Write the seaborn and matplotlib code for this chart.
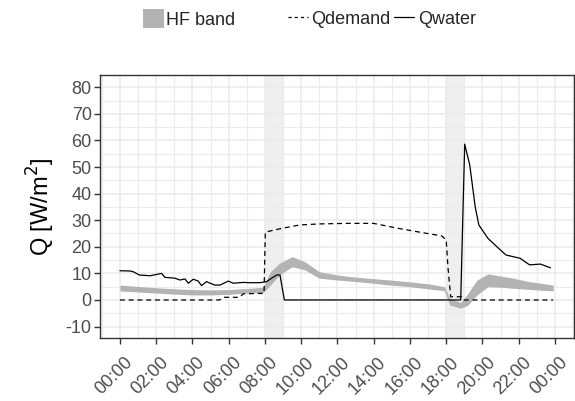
import matplotlib
matplotlib.use("Agg")
import matplotlib.pyplot as plt
from matplotlib.patches import Patch
from matplotlib.lines import Line2D
from matplotlib.ticker import MultipleLocator, FixedLocator
from matplotlib.transforms import ScaledTranslation
import seaborn as sns
import pandas as pd

# Heat flux band (lower / upper envelope), hours of day
t_band = [0.0, 1.0, 2.0, 3.0, 4.0, 5.0, 6.0, 7.0, 7.9, 8.3, 8.8, 9.5, 10.2, 11.0,
          12.0, 12.7, 14.0, 14.9, 16.0, 17.1, 17.9, 18.2, 18.8, 19.2, 19.7, 20.3,
          21.0, 21.7, 22.5, 23.2, 23.9]
band_lo = [3.4, 3.0, 2.6, 2.2, 1.9, 1.9, 2.1, 2.6, 2.8, 5.6, 9.4, 12.5, 11.3, 8.2,
           7.5, 7.1, 6.3, 5.6, 5.0, 4.1, 3.5, -1.9, -3.1, -1.9, 1.9, 5.0,
           4.8, 4.4, 4.0, 3.7, 3.4]
band_hi = [5.6, 5.1, 4.6, 4.2, 3.9, 3.8, 3.9, 4.3, 4.8, 10.6, 13.8, 16.3, 14.4, 10.6,
           9.4, 8.8, 8.0, 7.5, 6.8, 6.0, 5.0, 0.6, -1.0, 2.5, 7.5, 9.8,
           9.0, 8.2, 7.0, 6.3, 5.6]

# Heat demand
t_demand = [0.0, 5.5, 5.7, 6.6, 6.8, 7.95, 8.02, 8.5, 9.0, 9.9, 11.0, 12.5, 14.0,
            15.3, 16.7, 17.75, 18.0, 18.1, 18.25, 18.85, 18.95, 23.9]
q_demand = [0.0, 0.0, 1.0, 1.0, 2.3, 2.5, 25.5, 26.3, 27.0, 28.2, 28.6, 28.8, 28.8,
            27.0, 25.3, 24.1, 22.6, 12.0, 1.2, 1.2, 0.0, 0.0]

# Heat delivered by water
t_water = [0.0, 0.55, 0.74, 1.07, 1.66, 2.3, 2.48, 3.03, 3.31, 3.59, 3.77, 4.05,
           4.32, 4.5, 4.78, 4.97, 5.24, 5.52, 5.98, 6.25, 6.8, 7.17, 7.72, 8.09,
           8.37, 8.65, 8.83, 9.07, 12.0, 15.0, 18.8, 19.02, 19.3, 19.6, 19.8, 20.3,
           20.8, 21.3, 22.07, 22.6, 23.2, 23.75]
q_water = [11.0, 10.9, 10.6, 9.4, 9.1, 10.0, 8.5, 8.2, 7.5, 7.9, 6.3, 7.8,
           7.1, 5.4, 6.9, 6.3, 5.6, 5.6, 7.1, 6.3, 6.6, 6.5, 6.5, 6.9,
           8.2, 9.4, 9.4, 0.0, 0.0, 0.0, 0.0, 58.6, 50.7, 35.0, 28.2, 23.2,
           20.0, 16.9, 15.7, 13.2, 13.5, 12.1]

# Highlighted periods (start, end) in hours
periods = [(8.0, 9.0), (18.0, 19.0)]

x_ticks = list(range(0, 25, 2))
x_labels = [f"{h % 24:02d}:00" for h in x_ticks]
y_ticks = list(range(-10, 81, 10))

sns.set_theme(style="white")
plt.rcParams["font.family"] = ["Liberation Sans", "DejaVu Sans"]
plt.rcParams["axes.unicode_minus"] = False

W, H = 575, 401
fig = plt.figure(figsize=(W / 100, H / 100), dpi=100)
ax = fig.add_axes([100 / W, 1 - 338 / H, 474 / W, 263 / H])

grid_col = "#EBEBEB"
for s, e in periods:
    ax.axvspan(s, e, color="#EFEFEF", lw=0, zorder=0.5)

ax.fill_between(t_band, band_lo, band_hi, color="#B3B3B3", lw=0, zorder=2)

df_d = pd.DataFrame({"t": t_demand, "q": q_demand})
df_w = pd.DataFrame({"t": t_water, "q": q_water})
sns.lineplot(data=df_d, x="t", y="q", ax=ax, color="black", lw=0.9,
             linestyle=(0, (4, 3)), estimator=None, sort=False, zorder=3)
sns.lineplot(data=df_w, x="t", y="q", ax=ax, color="black", lw=0.9,
             estimator=None, sort=False, zorder=3)

ax.set_xlim(-1.10, 25.05)
ax.set_ylim(-14.3, 84.6)
ax.xaxis.set_major_locator(FixedLocator(x_ticks))
ax.set_xticklabels(x_labels)
ax.xaxis.set_minor_locator(MultipleLocator(1))
ax.set_yticks(y_ticks)
ax.yaxis.set_minor_locator(FixedLocator([v + 5 for v in range(-20, 81, 10)]))

ax.set_axisbelow(True)
ax.grid(True, which="major", color=grid_col, lw=1.1, zorder=0)
ax.grid(True, which="minor", color=grid_col, lw=0.8, zorder=0)

for sp in ax.spines.values():
    sp.set_color("#333333")
    sp.set_linewidth(1.0)
    sp.set_visible(True)

ax.tick_params(axis="both", which="major", length=4, width=1.0, color="#333333",
               labelcolor="#4D4D4D", labelsize=13, direction="out",
               bottom=True, left=True)
ax.tick_params(axis="both", which="minor", length=0)
ax.tick_params(axis="y", pad=2)
ax.tick_params(axis="x", pad=4)
shift = ScaledTranslation(4 / 100, -5 / 100, fig.dpi_scale_trans)
for lab in ax.get_xticklabels():
    lab.set_rotation(45)
    lab.set_ha("right")
    lab.set_va("top")
    lab.set_rotation_mode("anchor")
    lab.set_transform(lab.get_transform() + shift)

ax.set_xlabel("")
ax.set_ylabel("Q [W/m$^2$]", fontsize=17, color="black", labelpad=6)

leg1 = fig.legend(handles=[Patch(facecolor="#B3B3B3", edgecolor="none", label="HF band")],
                  loc="center left", bbox_to_anchor=(143 / W, 1 - 19 / H),
                  frameon=False, fontsize=13, handlelength=1.15, handleheight=1.2,
                  handletextpad=0.15, borderpad=0, borderaxespad=0)
leg2 = fig.legend(handles=[Line2D([], [], color="black", lw=0.9, linestyle=(0, (2.5, 2.5)),
                                  label="Qdemand"),
                           Line2D([], [], color="black", lw=0.9, label="Qwater")],
                  loc="center left", bbox_to_anchor=(288 / W, 1 - 19 / H), ncol=2,
                  frameon=False, fontsize=13, handlelength=1.1, handletextpad=0.2,
                  columnspacing=0.2, borderpad=0, borderaxespad=0)

fig.savefig("out.png", dpi=100)
